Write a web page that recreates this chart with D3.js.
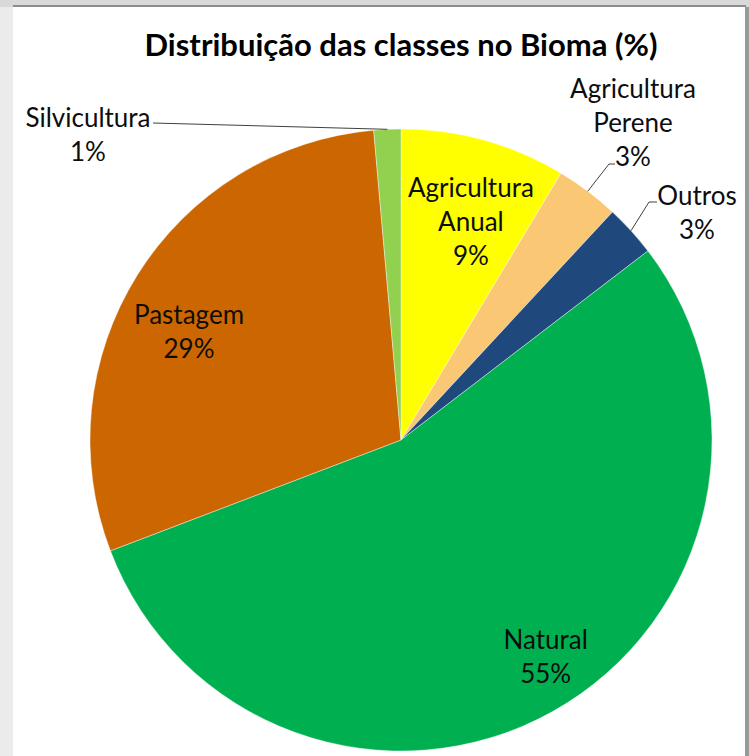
<!DOCTYPE html>
<html>
<head>
<meta charset="utf-8">
<script src="https://cdn.jsdelivr.net/npm/d3@7"></script>
<style>
  html, body { margin: 0; padding: 0; background: #ebebeb; }
  #chart { position: absolute; left: 0; top: 0; }
</style>
</head>
<body>
<div id="chart"></div>
<script>
// dados do gráfico (sentido horário a partir do topo)
const categories = ["Agricultura Anual", "Agricultura Perene", "Outros", "Natural", "Pastagem", "Silvicultura"];
const nameLines = [["Agricultura", "Anual"], ["Agricultura", "Perene"], ["Outros"], ["Natural"], ["Pastagem"], ["Silvicultura"]];
const shares = [8.6, 3.3, 2.7, 54.6, 29.4, 1.4];
const percentLabels = ["9%", "3%", "3%", "55%", "29%", "1%"];
const sliceColors = ["#ffff00", "#fac775", "#1f497d", "#00b050", "#cc6600", "#92d050"];

const width = 749, height = 756;
const cx = 401, cy = 440, R = 311;
const fontFamily = "Lato, 'Open Sans', sans-serif";
const lineH = 34;

// posição dos rótulos: dentro (centróide + ajuste) ou fora (com linha guia)
const labelLayout = [
  { inside: true, dx: 6, dy: 14 },
  { inside: false, x: 633, y: 98, elbow: [609, 164], end: [615, 164] },
  { inside: false, x: 697, y: 205, elbow: [649, 202], end: [657, 202] },
  { inside: true, dx: 28, dy: 9 },
  { inside: true, dx: -9, dy: 20 },
  { inside: false, x: 88, y: 127, elbow: null, end: [153, 123] }
];

const svg = d3.select("#chart").append("svg")
  .attr("width", width)
  .attr("height", height);

// moldura do painel
svg.append("rect").attr("x", 0).attr("y", 0).attr("width", width).attr("height", 7).attr("fill", "#d9d9d9");
svg.append("rect").attr("x", 13).attr("y", 5).attr("width", 733).attr("height", 2).attr("fill", "#8c8c8c");
svg.append("rect").attr("x", 13).attr("y", 7).attr("width", 732).attr("height", height - 7).attr("fill", "#ffffff");
svg.append("rect").attr("x", 745).attr("y", 7).attr("width", 4).attr("height", height - 7).attr("fill", "#999999");

svg.append("text")
  .attr("x", cx)
  .attr("y", 56)
  .attr("text-anchor", "middle")
  .attr("font-family", fontFamily)
  .attr("font-weight", "bold")
  .attr("font-size", 31)
  .attr("fill", "#000")
  .text("Distribuição das classes no Bioma (%)");

const pie = d3.pie().sort(null).value(d => d);
const arcs = pie(shares);
const arc = d3.arc().innerRadius(0).outerRadius(R);
const labelArc = d3.arc().innerRadius(R * 0.77).outerRadius(R * 0.77);
const edgeArc = d3.arc().innerRadius(R).outerRadius(R);

const g = svg.append("g").attr("transform", `translate(${cx},${cy})`);

g.selectAll("path.slice")
  .data(arcs)
  .enter()
  .append("path")
  .attr("class", "slice")
  .attr("d", arc)
  .attr("fill", (d, i) => sliceColors[i])
  .attr("stroke", "#ffffff")
  .attr("stroke-width", 0.4);

// rótulos
arcs.forEach((d, i) => {
  const lay = labelLayout[i];
  const lines = nameLines[i].concat([percentLabels[i]]);
  let x, y0;
  if (lay.inside) {
    const c = labelArc.centroid(d);
    x = cx + c[0] + lay.dx;
    const midY = cy + c[1] + lay.dy;
    y0 = midY - (lines.length - 1) * lineH / 2 + 8;
  } else {
    x = lay.x;
    y0 = lay.y;
    const p = edgeArc.centroid(d);
    const pts = [[cx + p[0], cy + p[1]]];
    if (lay.elbow) pts.push(lay.elbow);
    pts.push(lay.end);
    svg.append("path")
      .attr("d", d3.line()(pts))
      .attr("fill", "none")
      .attr("stroke", "#404040")
      .attr("stroke-width", 1);
  }
  const t = svg.append("text")
    .attr("text-anchor", "middle")
    .attr("font-family", fontFamily)
    .attr("font-size", 26)
    .attr("fill", "#0d0d0d");
  lines.forEach((s, k) => {
    t.append("tspan").attr("x", x).attr("y", y0 + k * lineH).text(s);
  });
});
</script>
</body>
</html>
